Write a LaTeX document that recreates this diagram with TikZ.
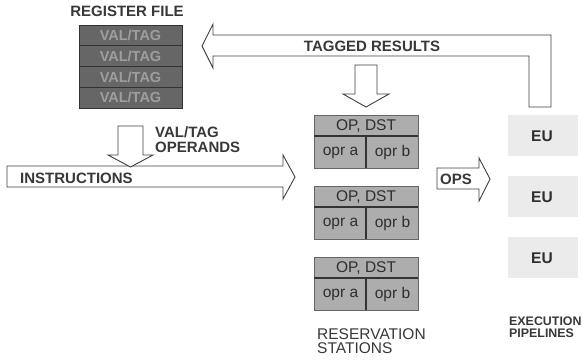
\documentclass[tikz,border=0pt]{standalone}
\usepackage{fontspec}
\setmainfont{Liberation Sans}
\begin{document}
\begin{tikzpicture}[x=1pt,y=-1pt,
  txt/.style={text=black!78,font=\fontsize{15}{15}\selectfont\bfseries,inner sep=0pt},
  small/.style={text=black!78,font=\fontsize{12.4}{12}\selectfont\bfseries,inner sep=0pt},
  hollow/.style={draw=black!75,line width=0.9pt,fill=white,line join=miter},
  regrow/.style={fill=black!60,draw=black!80,line width=0.8pt},
  regtxt/.style={text=black!38,font=\fontsize{14.5}{15}\selectfont\bfseries,inner sep=0pt},
  rsbox/.style={fill=black!32,draw=black!60,line width=0.6pt},
  rsline/.style={draw=black!80,line width=1.2pt},
  rstxt/.style={text=black!82,font=\fontsize{15.5}{16}\selectfont,inner sep=0pt},
  eubox/.style={fill=black!8,draw=none},
]
\useasboundingbox (0,0) rectangle (583,359);

% Register file
\node[txt,anchor=center] (rftitle) at (127,11) {REGISTER FILE};
\foreach \i in {0,1,2,3}{
  \draw[regrow] (79,{25+20.75*\i}) rectangle (182,{25+20.75*(\i+1)});
  \node[regtxt] (reg\i) at (130.5,{35.6+20.75*\i}) {VAL/TAG};
}

% Tagged results arrow
\draw[hollow] (202,46) -- (213,24) -- (213,35) -- (551,35) -- (551,107)
  -- (529,107) -- (529,56) -- (213,56) -- (213,68) -- cycle;
\node[txt] (tagged) at (372,46) {TAGGED RESULTS};

% Down arrow to reservation stations
\draw[hollow] (355,65) -- (377,65) -- (377,94) -- (389,94) -- (366,107)
  -- (343,94) -- (355,94) -- cycle;

% Instructions arrow
\draw[hollow] (7,166) -- (283,166) -- (283,155) -- (295,177) -- (283,199)
  -- (283,187) -- (7,187) -- cycle;
\node[txt,anchor=west] (instr) at (20,178) {INSTRUCTIONS};

% VAL/TAG operands arrow
\draw[hollow] (118,126) -- (143,126) -- (143,155) -- (153,155) -- (130.5,167)
  -- (108,155) -- (118,155) -- cycle;
\node[txt,anchor=west,align=left,font=\fontsize{15}{15}\selectfont\bfseries] (operands) at (155,139.5) {VAL/TAG\\OPERANDS};

% OPS arrow
\draw[hollow] (437,168) -- (479,168) -- (479,158) -- (490,179) -- (479,201)
  -- (479,189) -- (437,189) -- cycle;
\node[txt] (ops) at (456,179) {OPS};

% Reservation stations
\foreach \t/\n in {115/1,186/2,257/3}{
  \draw[rsbox] (314,\t) rectangle (418,{\t+53});
  \draw[rsline] (314,{\t+21}) -- (418,{\t+21});
  \draw[rsline] (366,{\t+21}) -- (366,{\t+53});
  \node[rstxt] (op\n) at (366,{\t+11}) {OP, DST};
  \node[rstxt] (opra\n) at (340.5,{\t+37.5}) {opr a};
  \node[rstxt] (oprb\n) at (392.5,{\t+37.5}) {opr b};
}
\node[txt,anchor=north west,align=left,font=\fontsize{15.5}{14.5}\selectfont] (rslabel) at (317,328) {RESERVATION\\STATIONS};

% Execution units
\foreach \t/\n in {115/1,176/2,237/3}{
  \fill[eubox] (508,\t) rectangle (578,{\t+41});
  \node[rstxt,font=\fontsize{15.5}{16}\selectfont\bfseries] (eu\n) at (542,{\t+21}) {EU};
}
\node[small,anchor=north west,align=left] (eplabel) at (509,317) {EXECUTION\\PIPELINES};
\end{tikzpicture}
\end{document}
